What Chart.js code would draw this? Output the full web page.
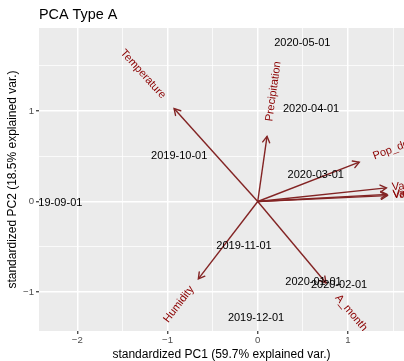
<!DOCTYPE html>
<html>
<head>
<meta charset="utf-8">
<script src="https://cdn.jsdelivr.net/npm/chart.js@4/dist/chart.umd.min.js"></script>
<style>
  html, body { margin: 0; padding: 0; background: #fff; }
</style>
</head>
<body>
<canvas id="pca" width="404" height="361"></canvas>
<script>
// sample scores (labels drawn at these positions)
const sampleLabels = ["2019-09-01", "2019-10-01", "2019-11-01", "2019-12-01", "2020-01-01",
                      "2020-02-01", "2020-03-01", "2020-04-01", "2020-05-01"];
const sampleX = [-2.255, -0.870, -0.152, -0.019, 0.618, 0.901, 0.643, 0.591, 0.494];
const sampleY = [-0.022, 0.501, -0.491, -1.288, -0.890, -0.919, 0.288, 1.025, 1.755];

// variable loadings (arrows)
const varNames = ["Temperature", "Precipitation", "Pop_density", "Var1", "Var2", "Var3",
                  "Humidity", "A_month_avg"];
const varX = [-0.927, 0.103, 1.125, 1.426, 1.433, 1.436, -0.658, 0.757];
const varY = [1.027, 0.720, 0.435, 0.150, 0.078, 0.065, -0.856, -0.901];

const xTicks = [-2, -1.5, -1, -0.5, 0, 0.5, 1, 1.5];
const yTicks = [-1, -0.5, 0, 0.5, 1, 1.5];
const xRange = [-2.424, 1.621];
const yRange = [-1.432, 1.918];

const FONT = '"Liberation Sans", Arial, Helvetica, sans-serif';
const ARROW_COL = '#832424';
const VAR_COL = '#8B0000';

function fmt(v) {
  return v < 0 ? '\u2212' + Math.abs(v) : String(v);
}

const panelBg = {
  id: 'panelBg',
  beforeDraw(chart) {
    const { ctx, chartArea: a } = chart;
    ctx.save();
    ctx.fillStyle = '#EBEBEB';
    ctx.fillRect(a.left, a.top, a.right - a.left, a.bottom - a.top);
    ctx.restore();
  }
};

const biplotText = {
  id: 'biplotText',
  afterDatasetsDraw(chart) {
    const { ctx, chartArea: a } = chart;
    ctx.save();
    ctx.beginPath();
    ctx.rect(a.left, a.top, a.right - a.left, a.bottom - a.top);
    ctx.clip();

    // arrow heads
    ctx.strokeStyle = ARROW_COL;
    ctx.lineWidth = 1.4;
    ctx.lineCap = 'round';
    varNames.forEach((n, i) => {
      const meta = chart.getDatasetMeta(i + 1);
      const p0 = meta.data[0], p1 = meta.data[1];
      const ang = Math.atan2(p1.y - p0.y, p1.x - p0.x);
      const len = 7;
      ctx.beginPath();
      ctx.moveTo(p1.x + len * Math.cos(ang + Math.PI * 5 / 6), p1.y + len * Math.sin(ang + Math.PI * 5 / 6));
      ctx.lineTo(p1.x, p1.y);
      ctx.lineTo(p1.x + len * Math.cos(ang - Math.PI * 5 / 6), p1.y + len * Math.sin(ang - Math.PI * 5 / 6));
      ctx.stroke();
    });

    // sample labels
    ctx.font = '11px ' + FONT;
    ctx.fillStyle = '#000';
    ctx.textAlign = 'center';
    ctx.textBaseline = 'middle';
    const sm = chart.getDatasetMeta(0);
    sm.data.forEach((pt, i) => {
      ctx.fillText(sampleLabels[i], pt.x, pt.y);
    });

    // variable names, ggbiplot style (angle along arrow, hjust offset)
    ctx.fillStyle = VAR_COL;
    ctx.textAlign = 'left';
    varNames.forEach((n, i) => {
      const p1 = chart.getDatasetMeta(i + 1).data[1];
      const ang = Math.atan(varY[i] / varX[i]);
      const hjust = 0.5 * (1 - 1.5 * Math.sign(varX[i]));
      const w = ctx.measureText(n).width;
      ctx.save();
      ctx.translate(p1.x, p1.y);
      ctx.rotate(-ang);
      ctx.fillText(n, -hjust * w, 0);
      ctx.restore();
    });
    ctx.restore();
  },
  afterDraw(chart) {
    const { ctx, chartArea: a } = chart;
    ctx.save();
    ctx.font = '14.4px ' + FONT;
    ctx.fillStyle = '#000';
    ctx.textAlign = 'left';
    ctx.textBaseline = 'middle';
    ctx.fillText('PCA Type A', a.left, 15);
    ctx.restore();
  }
};

const datasets = [{
  label: 'samples',
  data: sampleX.map((x, i) => ({ x: x, y: sampleY[i] })),
  pointRadius: 0,
  pointHoverRadius: 0
}];
varNames.forEach((n, i) => {
  datasets.push({
    label: n,
    data: [{ x: 0, y: 0 }, { x: varX[i], y: varY[i] }],
    showLine: true,
    borderColor: ARROW_COL,
    borderWidth: 1.4,
    pointRadius: 0,
    pointHoverRadius: 0
  });
});

const gridOpts = {
  color: '#FFFFFF',
  lineWidth: c => Number.isInteger(c.tick.value) ? 1.5 : 0.75,
  tickColor: c => Number.isInteger(c.tick.value) ? '#333333' : 'rgba(0,0,0,0)',
  tickWidth: 1.2,
  tickLength: 3
};

new Chart(document.getElementById('pca'), {
  type: 'scatter',
  data: { datasets: datasets },
  plugins: [panelBg, biplotText],
  options: {
    responsive: false,
    animation: false,
    layout: { padding: { top: 28, right: 0, bottom: 0, left: 0 } },
    plugins: { legend: { display: false }, tooltip: { enabled: false } },
    scales: {
      x: {
        type: 'linear',
        min: xRange[0],
        max: xRange[1],
        afterBuildTicks: s => { s.ticks = xTicks.map(v => ({ value: v })); },
        afterFit: s => { s.height = 30; },
        grid: gridOpts,
        border: { display: false },
        ticks: {
          autoSkip: false,
          maxRotation: 0,
          padding: 1,
          color: '#4D4D4D',
          font: { family: FONT, size: 9.6 },
          callback: v => Number.isInteger(v) ? fmt(v) : ''
        },
        title: {
          display: true,
          text: 'standardized PC1 (59.7% explained var.)',
          color: '#000',
          font: { family: FONT, size: 12, lineHeight: 1 },
          padding: { top: 0, bottom: 0 }
        }
      },
      y: {
        type: 'linear',
        min: yRange[0],
        max: yRange[1],
        afterBuildTicks: s => { s.ticks = yTicks.map(v => ({ value: v })); },
        afterFit: s => { s.width = 39; },
        grid: gridOpts,
        border: { display: false },
        ticks: {
          autoSkip: false,
          padding: 2,
          color: '#4D4D4D',
          font: { family: FONT, size: 9.6 },
          callback: v => Number.isInteger(v) ? fmt(v) : ''
        },
        title: {
          display: true,
          text: 'standardized PC2 (18.5% explained var.)',
          color: '#000',
          font: { family: FONT, size: 12, lineHeight: 1 },
          padding: { top: 7, bottom: 0 }
        }
      }
    }
  }
});
</script>
</body>
</html>
